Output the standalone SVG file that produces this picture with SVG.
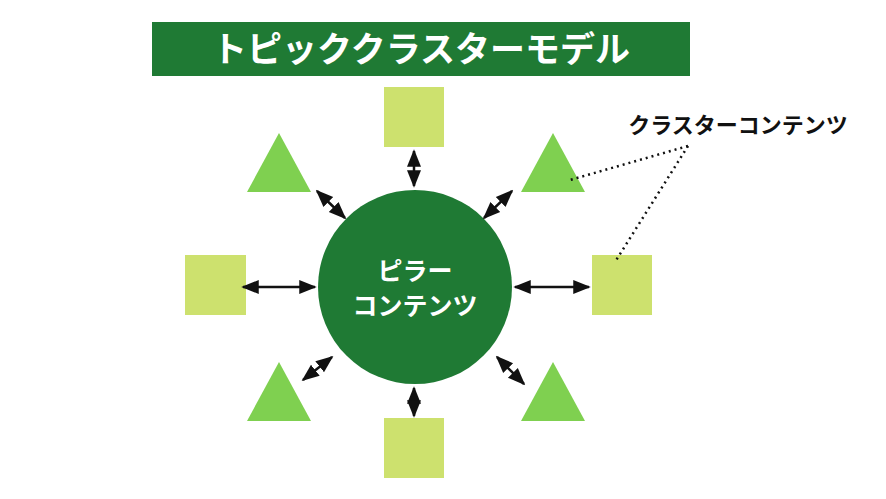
<svg xmlns="http://www.w3.org/2000/svg" width="886" height="499" viewBox="0 0 886 499">
<defs>
<marker id="ah" viewBox="0 0 10 10" refX="9" refY="5" markerWidth="7" markerHeight="7" orient="auto-start-reverse"><path d="M0,1 L10,5 L0,9 z" fill="#111"/></marker>
<style>
.sq{fill:#cde16e}.tri{fill:#7fd050}
.ar{stroke:#111;stroke-width:2.5;fill:none;marker-start:url(#ah);marker-end:url(#ah)}
text{font-family:"Noto Sans CJK JP",sans-serif;font-weight:bold}
</style>
</defs>
<rect width="886" height="499" fill="#fff"/>
<g id="title"><rect x="152" y="22" width="538" height="54" fill="#1f7a34"/><text x="421" y="62" font-size="35" fill="#fff" text-anchor="middle">トピッククラスターモデル</text></g>
<g id="pillar"><circle cx="415" cy="287" r="97" fill="#1f7a34"/><text x="415" y="280" font-size="25" fill="#fff" text-anchor="middle">ピラー</text><text x="415" y="315" font-size="25" fill="#fff" text-anchor="middle">コンテンツ</text></g>
<g id="sq-top"><rect class="sq" x="384" y="87" width="60" height="60"/></g>
<g id="sq-left"><rect class="sq" x="185" y="255" width="61" height="60"/></g>
<g id="sq-right"><rect class="sq" x="592" y="255" width="60" height="60"/></g>
<g id="sq-bottom"><rect class="sq" x="384" y="418" width="60" height="60"/></g>
<g id="tri-tl"><polygon class="tri" points="279,133 311,192 247,192"/></g>
<g id="tri-tr"><polygon class="tri" points="553,133 585,192 521,192"/></g>
<g id="tri-bl"><polygon class="tri" points="279,362 311,421 247,421"/></g>
<g id="tri-br"><polygon class="tri" points="553,362 585,421 521,421"/></g>
<g id="label"><text x="738" y="133" font-size="22" fill="#111" text-anchor="middle">クラスターコンテンツ</text></g>
<g id="connectors">
<line class="ar" x1="414" y1="151" x2="414" y2="186"/>
<line class="ar" x1="414" y1="388" x2="414" y2="416"/>
<line class="ar" x1="243" y1="287" x2="315" y2="287"/>
<line class="ar" x1="515" y1="287" x2="589" y2="287"/>
<line class="ar" x1="317" y1="191" x2="345" y2="218"/>
<line class="ar" x1="512" y1="191" x2="484" y2="218"/>
<line class="ar" x1="332" y1="357" x2="303" y2="380"/>
<line class="ar" x1="497" y1="357" x2="524" y2="384"/>
<line x1="688" y1="146" x2="570" y2="180" stroke="#111" stroke-width="2.5" stroke-dasharray="2,4"/>
<line x1="688" y1="146" x2="615" y2="262" stroke="#111" stroke-width="2.5" stroke-dasharray="2,4"/>
</g>
</svg>
